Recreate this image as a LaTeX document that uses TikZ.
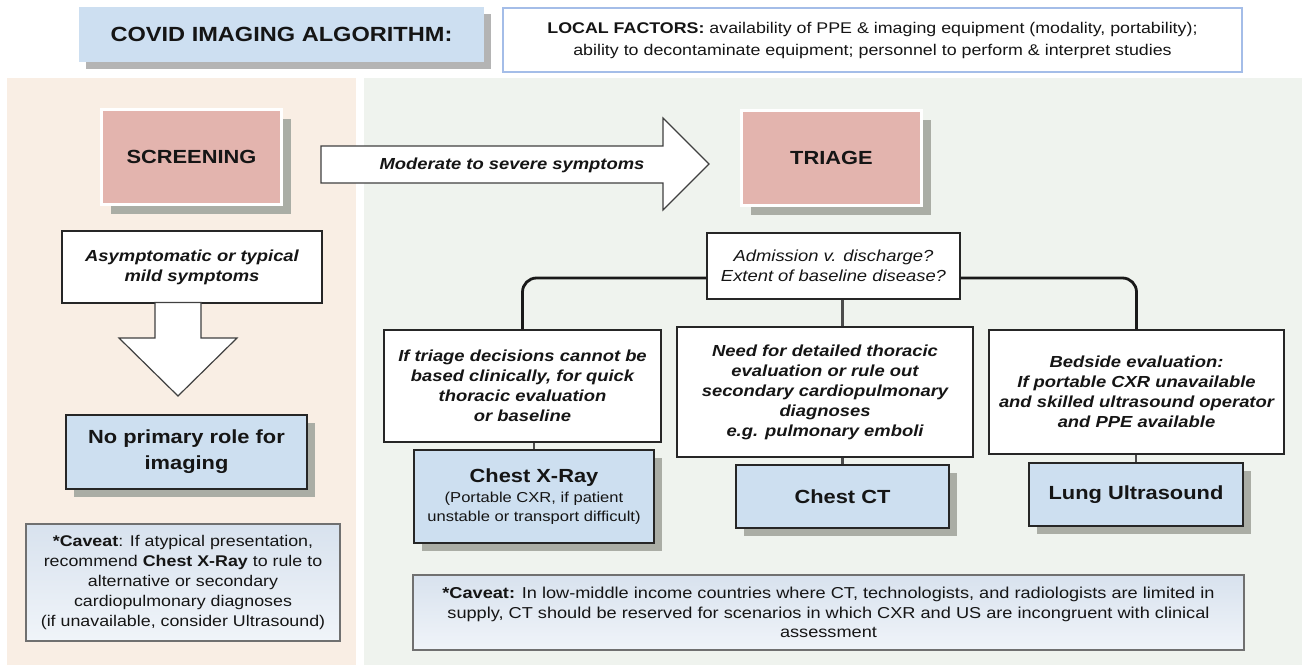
\documentclass[tikz,border=0pt]{standalone}
\usepackage{fontspec}
\setmainfont{Liberation Sans}[FakeStretch=1.15]
\usetikzlibrary{shadows}
\definecolor{titleblue}{HTML}{CDDFF1}
\definecolor{titleshadow}{HTML}{B4B4B4}
\definecolor{localblue}{HTML}{A4BDE8}
\definecolor{peach}{HTML}{F9EEE4}
\definecolor{greyish}{HTML}{EFF3EE}
\definecolor{pinkbox}{HTML}{E3B4AE}
\definecolor{shadowg}{HTML}{AAADA5}
\definecolor{boxblue}{HTML}{CDDFF0}
\definecolor{cavtop}{HTML}{D8E2EE}
\definecolor{cavbot}{HTML}{F0F4F9}
\definecolor{cavgray}{HTML}{707070}
\definecolor{ink}{HTML}{151515}
\tikzset{
  txt/.style={text=ink, align=center, inner sep=0pt},
  wbox/.style={txt, draw=black!85, line width=1.3pt, fill=white,
    font=\fontsize{16}{20}\selectfont\bfseries\itshape},
  bbox/.style={txt, draw=black!85, line width=1.3pt, fill=boxblue,
    font=\fontsize{19}{26}\selectfont\bfseries,
    drop shadow={shadow xshift=8pt, shadow yshift=-8pt, fill=shadowg, opacity=1}},
  pbox/.style={txt, draw=white, line width=3pt, fill=pinkbox,
    font=\fontsize{19}{23}\selectfont\bfseries,
    drop shadow={shadow xshift=9pt, shadow yshift=-9pt, fill=shadowg, opacity=1}},
  cavbox/.style={txt, draw=cavgray, line width=1.3pt, top color=cavtop, bottom color=cavbot},
  conn/.style={line width=2.8pt, black!90, rounded corners=14pt},
  sconn/.style={line width=2.8pt, black!70},
  blockarrow/.style={fill=white, draw=black!75, line width=1.2pt, line join=miter},
}
\begin{document}
\begin{tikzpicture}[x=1pt,y=-1pt]
\path[use as bounding box, fill=white] (0,0) rectangle (1304,667);
% panels
\fill[peach] (7,78) rectangle (356,665);
\fill[greyish] (364,78) rectangle (1302,665);
% header
\node[txt, fill=titleblue, minimum width=405pt, minimum height=55pt,
  font=\fontsize{20.5}{24}\selectfont\bfseries,
  drop shadow={shadow xshift=7pt, shadow yshift=-7pt, fill=titleshadow, opacity=1}]
  (title) at (281.5,34.5) {COVID IMAGING ALGORITHM:};
\node[txt, fill=white, draw=localblue, line width=1.2pt, minimum width=739pt, minimum height=64pt,
  font=\fontsize{15.5}{22}\selectfont]
  (local) at (872.5,40) {\textbf{LOCAL FACTORS:} availability of PPE \& imaging equipment (modality, portability);\\
  ability to decontaminate equipment; personnel to perform \& interpret studies};
% screening side
\node[pbox, minimum width=180pt, minimum height=95pt] (screen) at (191.5,157) {SCREENING};
\node[wbox, minimum width=260pt, minimum height=72pt] (asym) at (192,267) {Asymptomatic or typical\\ mild symptoms};
\draw[blockarrow] (155,302.5) -- (201,302.5) -- (201,338) -- (237,338) -- (178,396) -- (119,338) -- (155,338) -- cycle;
\node[bbox, minimum width=241pt, minimum height=74pt] (nopri) at (186.5,452) {No primary role for\\ imaging};
\node[cavbox, minimum width=314pt, minimum height=117pt, font=\fontsize{15.5}{20}\selectfont]
  (cavL) at (183,582.5) {\textbf{*Caveat}: If atypical presentation,\\ recommend \textbf{Chest X-Ray} to rule to\\ alternative or secondary\\ cardiopulmonary diagnoses\\ (if unavailable, consider Ultrasound)};
% block arrow to triage
\draw[blockarrow] (321,146) -- (663,146) -- (663,118) -- (709,164) -- (663,210) -- (663,183) -- (321,183) -- cycle;
\node[txt, font=\fontsize{16}{20}\selectfont\bfseries\itshape] (mod) at (512,165) {Moderate to severe symptoms};
% triage side
\node[pbox, minimum width=180pt, minimum height=95pt] (triage) at (831.5,158) {TRIAGE};
\node[txt, draw=black!85, line width=1.3pt, fill=white, minimum width=253pt, minimum height=66pt,
  font=\fontsize{16}{20}\selectfont\itshape] (q) at (833.5,266) {Admission v. discharge?\\ Extent of baseline disease?};
\node[wbox, minimum width=277pt, minimum height=112pt] (b1) at (522.5,386)
  {If triage decisions cannot be\\ based clinically, for quick\\ thoracic evaluation\\ or baseline};
\node[wbox, minimum width=296pt, minimum height=130pt] (b2) at (825,392)
  {Need for detailed thoracic\\ evaluation or rule out\\ secondary cardiopulmonary\\ diagnoses\\ e.g. pulmonary emboli};
\node[wbox, minimum width=295pt, minimum height=124pt] (b3) at (1136.5,392)
  {Bedside evaluation:\\ If portable CXR unavailable\\ and skilled ultrasound operator\\ and PPE available};
\node[bbox, minimum width=240pt, minimum height=93pt, font=\fontsize{14.4}{19}\selectfont] (cxr) at (534,496.5)
  {{\fontsize{19}{22}\selectfont\bfseries Chest X-Ray}\\[1pt] (Portable CXR, if patient\\ unstable or transport difficult)};
\node[bbox, minimum width=213pt, minimum height=63pt] (ct) at (842.5,496.5) {Chest CT};
\node[bbox, minimum width=214pt, minimum height=63pt] (lus) at (1136,494.5) {Lung Ultrasound};
\node[cavbox, minimum width=831pt, minimum height=75pt, font=\fontsize{15.8}{19.5}\selectfont]
  (cavB) at (828.5,612.5) {\textbf{*Caveat:} In low-middle income countries where CT, technologists, and radiologists are limited in\\
  supply, CT should be reserved for scenarios in which CXR and US are incongruent with clinical\\ assessment};
% connectors
\draw[conn] ([yshift=-12pt]q.west) -| (b1.north);
\draw[conn] ([yshift=-12pt]q.east) -| (b3.north);
\draw[sconn] (ct.north |- q.south) -- (ct.north |- b2.north);
\draw[sconn] (cxr.north |- b1.south) -- (cxr.north);
\draw[sconn] (ct.north |- b2.south) -- (ct.north);
\draw[sconn] (lus.north |- b3.south) -- (lus.north);
\end{tikzpicture}
\end{document}
